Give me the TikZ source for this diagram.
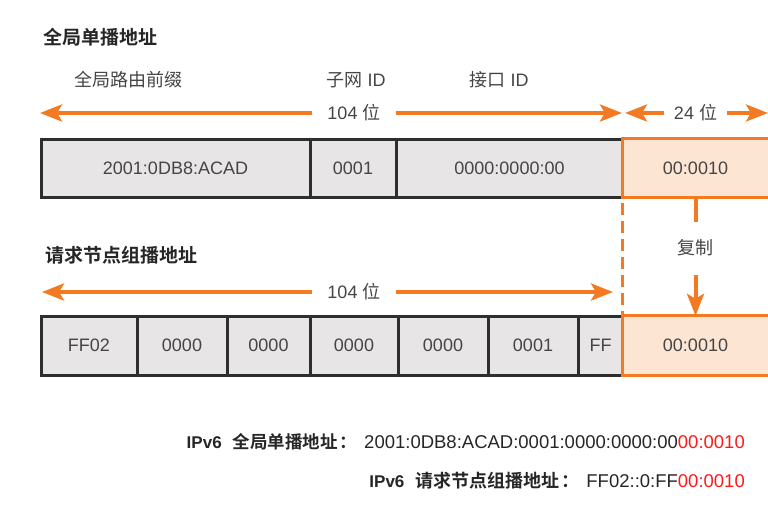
\documentclass[tikz,border=0pt]{standalone}
\usepackage{fontspec}
\setmainfont{Liberation Sans}
\newfontfamily\cjk{Noto Sans CJK SC}[BoldFont={Noto Sans CJK SC Bold}]
\usetikzlibrary{arrows.meta}
\definecolor{org}{HTML}{F37A21}
\definecolor{orgfill}{HTML}{FDE5D4}
\definecolor{cellgray}{HTML}{E7E5E6}
\definecolor{txt}{HTML}{454545}
\definecolor{bord}{HTML}{2E2E2E}
\definecolor{addrred}{HTML}{FF1A1A}
\newcommand\myfs{\fontsize{18}{21}\selectfont}
\newcommand\myts{\fontsize{19}{22}\selectfont}
\newcommand\ipvsix{{\fontsize{17}{20}\selectfont\bfseries IPv6}}
\newcommand\addrfs{\fontsize{18.5}{21}\selectfont}
\begin{document}
\begin{tikzpicture}[x=1pt,y=-1pt,
  cell/.style={draw=bord, line width=3pt, fill=cellgray, text=txt, font=\myfs, inner sep=0pt},
  ocell/.style={fill=orgfill, text=txt, font=\myfs, inner sep=0pt},
  obord/.style={draw=org, line width=3pt, line join=miter},
  lbl/.style={text=txt, font=\myfs, inner sep=0pt},
  ttl/.style={text=black!85, font=\myts, inner sep=0pt, anchor=west},
  oarrow/.style={draw=org, line width=4pt, -{Stealth[length=22pt,width=17pt,inset=5pt]}},
  oline/.style={draw=org, line width=4pt},
  odash/.style={draw=org, line width=3pt, dash pattern=on 12pt off 6pt, dash phase=12pt},
  foot/.style={text=black!85, font=\myfs, inner sep=0pt, anchor=east}
]
\useasboundingbox (0,0) rectangle (768,504);

% titles
\node[ttl] (t1) at (43,37) {\cjk\bfseries 全局单播地址};
\node[ttl] (t2) at (45,255) {\cjk\bfseries 请求节点组播地址};

% field labels
\node[lbl] (gp) at (128,80) {\cjk 全局路由前缀};
\node[lbl] (sn) at (356,80) {{\cjk 子网} ID};
\node[lbl] (ifid) at (499,80) {{\cjk 接口} ID};

% top row
\node[cell, minimum width=269pt, minimum height=58pt] (g1) at (175.5,168) {2001:0DB8:ACAD};
\node[cell, minimum width=86pt, minimum height=58pt] (g2) at (353,168) {0001};
\node[cell, minimum width=227pt, minimum height=58pt] (g3) at (509.5,168) {0000:0000:00};
\node[ocell, minimum width=145pt, minimum height=58pt] (g4) at (695.5,168) {00:0010};
\draw[obord] (g4.north east) -- (g4.north west) -- (g4.south west) -- (g4.south east);

% bottom row
\node[cell, minimum width=96pt, minimum height=59pt] (c1) at (89,345.5) {FF02};
\node[cell, minimum width=90pt, minimum height=59pt] (c2) at (182,345.5) {0000};
\node[cell, minimum width=83pt, minimum height=59pt] (c3) at (268.5,345.5) {0000};
\node[cell, minimum width=88pt, minimum height=59pt] (c4) at (354,345.5) {0000};
\node[cell, minimum width=90pt, minimum height=59pt] (c5) at (443,345.5) {0000};
\node[cell, minimum width=90pt, minimum height=59pt] (c6) at (533,345.5) {0001};
\node[cell, minimum width=45pt, minimum height=59pt] (c7) at (600.5,345.5) {FF};
\node[ocell, minimum width=145pt, minimum height=59pt] (o2) at (695.5,345.5) {00:0010};
\draw[obord] (o2.north east) -- (o2.north west) -- (o2.south west) -- (o2.south east);

% 104 bit arrows (top)
\node[lbl, inner xsep=15pt] (b1) at (354,113) {104 {\cjk 位}};
\coordinate (b1l) at (40,113);
\coordinate (b1r) at (622,113);
\draw[oarrow] (b1.west) -- (b1l);
\draw[oarrow] (b1.east) -- (b1r);

% 24 bit arrows
\node[lbl, inner xsep=10pt] (b2) at (695.5,113) {24 {\cjk 位}};
\coordinate (b2l) at (625,113);
\coordinate (b2r) at (768,113);
\draw[oarrow] (b2.west) -- (b2l);
\draw[oarrow] (b2.east) -- (b2r);

% 104 bit arrows (bottom)
\node[lbl, inner xsep=15pt] (b3) at (354,292) {104 {\cjk 位}};
\coordinate (b3l) at (42,292);
\coordinate (b3r) at (613,292);
\draw[oarrow] (b3.west) -- (b3l);
\draw[oarrow] (b3.east) -- (b3r);

% copy
\node[lbl, minimum height=53pt] (cp) at (695.5,248.5) {\raisebox{3pt}{\cjk 复制}};
\draw[oline] (g4.south) -- (cp.north);
\draw[oarrow] (cp.south) -- (o2.north);

% dashed boundary
\draw[odash] (g4.south west) -- (o2.north west);

% footer
\node[foot] (l1) at (745,442) {\ipvsix\hspace{11pt}{\cjk\bfseries\fontsize{17.5}{20}\selectfont 全局单播地址\hspace{2pt}：}\hspace{7pt}{\addrfs 2001:0DB8:ACAD:0001:0000:0000:00\textcolor{addrred}{00:0010}}};
\node[foot] (l2) at (745,481) {\ipvsix\hspace{11pt}{\cjk\bfseries 请求节点组播地址\hspace{2pt}：}\hspace{7pt}{\addrfs FF02::0:FF\textcolor{addrred}{00:0010}}};
\end{tikzpicture}
\end{document}
